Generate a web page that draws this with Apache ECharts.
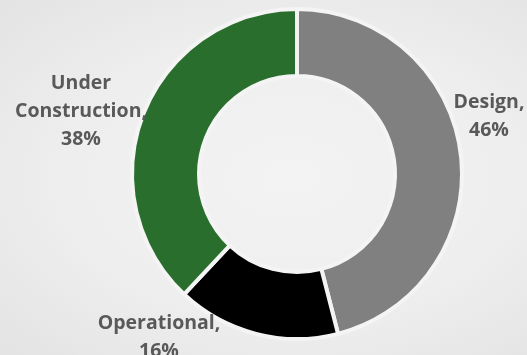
<!DOCTYPE html>
<html>
<head>
<meta charset="utf-8">
<script src="https://cdn.jsdelivr.net/npm/echarts@6/dist/echarts.min.js"></script>
<style>
  html, body { margin: 0; padding: 0; }
  body { width: 527px; height: 355px; background: radial-gradient(ellipse at 55% 50%, #f3f3f3 0%, #eeeeee 55%, #e3e3e3 100%); }
  #chart { width: 527px; height: 355px; }
</style>
</head>
<body>
<div id="chart"></div>
<script>
// Project status breakdown
const categories = ['Design', 'Operational', 'Under Construction'];
const shares = [46, 16, 38];
const sliceColors = ['#808080', '#000000', '#2a6e2e'];

// Label anchor for each slice (label box centre)
const labelSpots = [
  { x: 489, y: 116 },
  { x: 159, y: 337 },
  { x: 81, y: 111 }
];

const chart = echarts.init(document.getElementById('chart'), null, { renderer: 'canvas' });

chart.setOption({
  backgroundColor: 'transparent',
  animation: false,
  series: [{
    type: 'pie',
    center: [297, 174],
    radius: [98, 165],
    startAngle: 90,
    clockwise: true,
    avoidLabelOverlap: false,
    data: categories.map((name, i) => ({
      name: name,
      value: shares[i],
      itemStyle: { color: sliceColors[i] }
    })),
    itemStyle: { borderColor: '#f4f4f4', borderWidth: 4 },
    label: {
      show: true,
      position: 'outside',
      overflow: 'none',
      formatter: p => {
        const name = p.name === 'Under Construction' ? 'Under\nConstruction' : p.name;
        return name + ',\n' + p.value + '%';
      },
      fontFamily: 'Open Sans',
      fontWeight: 'bold',
      fontSize: 19.5,
      lineHeight: 28,
      color: '#595959',
      align: 'center'
    },
    labelLine: { show: false },
    labelLayout: params => {
      const s = labelSpots[params.dataIndex];
      return { x: s.x, y: s.y, align: 'center', verticalAlign: 'middle', hideOverlap: false };
    },
    emphasis: { disabled: true }
  }]
});
</script>
</body>
</html>
